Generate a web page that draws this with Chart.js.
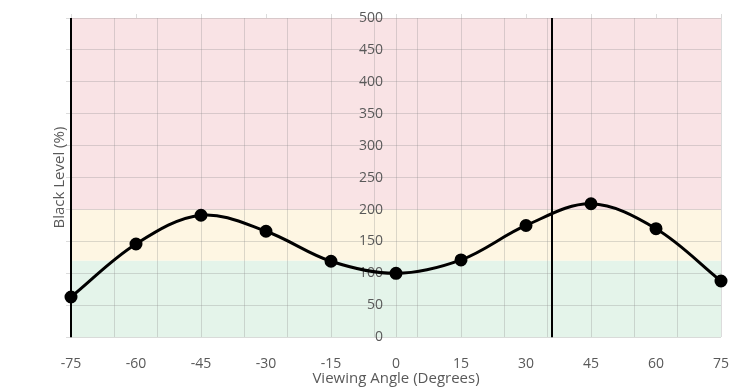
<!DOCTYPE html>
<html>
<head>
<meta charset="utf-8">
<script src="https://cdn.jsdelivr.net/npm/chart.js@4"></script>
<style>
  html, body { margin: 0; padding: 0; background: #fff; }
  canvas { display: block; }
</style>
</head>
<body>
<canvas id="blackLevelChart" width="749" height="390"></canvas>
<script>
// Dados do grafico
const angles = [-75, -60, -45, -30, -15, 0, 15, 30, 45, 60, 75];
const blackLevel = [63, 146, 191, 166, 119, 100, 121, 175, 209, 170, 88];
const gridAngles = [-75, -65, -55, -45, -35, -25, -15, -5, 0, 5, 15, 25, 35, 45, 55, 65, 75];
const markerAngles = [-75, 36];
const bandLimits = [0, 120, 200, 500];
const bandColors = ['#e4f4ea', '#fef6e3', '#f9e3e5'];

const textColor = '#595959';
const gridColor = 'rgba(140, 140, 140, 0.3)';
const font = "'Open Sans', 'Noto Sans', sans-serif";

Chart.defaults.font.family = font;
Chart.defaults.color = textColor;

// Faixas coloridas atras da grade
const bandsPlugin = {
  id: 'bands',
  beforeDraw(chart) {
    const { ctx, chartArea, scales } = chart;
    ctx.save();
    for (let i = 0; i < bandColors.length; i++) {
      const top = scales.y.getPixelForValue(bandLimits[i + 1]);
      const bottom = scales.y.getPixelForValue(bandLimits[i]);
      ctx.fillStyle = bandColors[i];
      ctx.fillRect(chartArea.left, top, chartArea.right - chartArea.left, bottom - top);
    }
    ctx.restore();
  }
};

const markerSets = markerAngles.map(a => ({
  data: [{ x: a, y: bandLimits[0] }, { x: a, y: bandLimits[bandLimits.length - 1] }],
  borderColor: '#000',
  borderWidth: 2,
  pointRadius: 0,
  tension: 0,
  clip: false
}));

new Chart(document.getElementById('blackLevelChart'), {
  type: 'line',
  data: {
    datasets: [
      ...markerSets,
      {
        data: angles.map((a, i) => ({ x: a, y: blackLevel[i] })),
        borderColor: '#000',
        backgroundColor: '#000',
        borderWidth: 3,
        pointRadius: 5,
        tension: 0.35,
        clip: false
      }
    ]
  },
  options: {
    responsive: false,
    animation: false,
    devicePixelRatio: 1,
    layout: { padding: { left: 51, right: 28, top: 14, bottom: 2 } },
    plugins: {
      legend: { display: false },
      tooltip: { enabled: false }
    },
    scales: {
      x: {
        type: 'linear',
        position: 'bottom',
        min: -75,
        max: 75,
        grid: { display: false, drawTicks: false },
        border: { display: false },
        ticks: { stepSize: 15, padding: 18, font: { size: 14 } },
        title: {
          display: true,
          text: 'Viewing Angle (Degrees)',
          font: { size: 15 },
          padding: { top: -20, bottom: 0 }
        }
      },
      // linhas verticais da grade (a cada 10 graus, mais o eixo em 0)
      xGrid: {
        type: 'linear',
        position: 'bottom',
        min: -75,
        max: 75,
        afterBuildTicks: s => { s.ticks = gridAngles.map(v => ({ value: v })); },
        afterFit: s => { s.height = 0; },
        ticks: { display: false },
        grid: { color: gridColor, drawTicks: false },
        border: { display: false }
      },
      xTop: {
        type: 'linear',
        position: 'top',
        min: -75,
        max: 75,
        ticks: { display: false, stepSize: 15 },
        grid: { drawOnChartArea: false, tickLength: 4, color: gridColor },
        border: { display: false }
      },
      // rotulos do eixo Y ficam um pouco a esquerda do eixo central
      y: {
        type: 'linear',
        position: { x: -3 },
        min: 0,
        max: 500,
        grid: { color: gridColor, drawTicks: false },
        border: { display: false },
        ticks: { stepSize: 50, font: { size: 14 } }
      },
      yTitle: {
        type: 'linear',
        position: 'left',
        min: 0,
        max: 500,
        ticks: { display: false, stepSize: 50 },
        grid: { drawOnChartArea: false, tickLength: 5, color: gridColor },
        border: { display: false },
        title: {
          display: true,
          text: 'Black Level (%)',
          font: { size: 15 },
          padding: { top: 0, bottom: -3 }
        }
      }
    }
  },
  plugins: [bandsPlugin]
});
</script>
</body>
</html>
